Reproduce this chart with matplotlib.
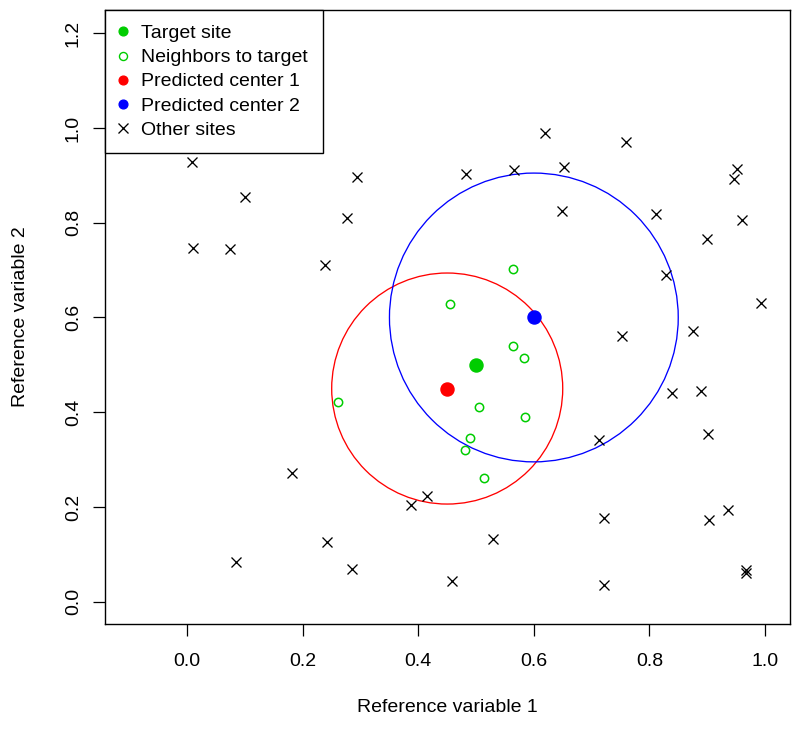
import matplotlib
matplotlib.use('Agg')
import matplotlib.pyplot as plt
import numpy as np
from matplotlib.lines import Line2D
from matplotlib.patches import Ellipse

plt.rcParams['font.family'] = ['Liberation Sans', 'DejaVu Sans']

# other sites (x marks)
other_x = [0.008, 0.100, 0.010, 0.074, 0.293, 0.277, 0.239, 0.620, 0.760, 0.482,
           0.566, 0.653, 0.951, 0.946, 0.648, 0.811, 0.960, 0.899, 0.828, 0.994,
           0.876, 0.752, 0.840, 0.889, 0.902, 0.713, 0.722, 0.904, 0.936, 0.968,
           0.968, 0.721, 0.529, 0.459, 0.415, 0.387, 0.181, 0.242, 0.286, 0.085]
other_y = [0.929, 0.854, 0.746, 0.744, 0.897, 0.810, 0.710, 0.990, 0.971, 0.903,
           0.911, 0.918, 0.914, 0.893, 0.825, 0.819, 0.806, 0.766, 0.690, 0.631,
           0.572, 0.561, 0.441, 0.444, 0.353, 0.342, 0.176, 0.173, 0.194, 0.067,
           0.060, 0.036, 0.132, 0.044, 0.224, 0.205, 0.272, 0.126, 0.069, 0.083]

# neighbors of the target
nb_x = [0.564, 0.454, 0.564, 0.583, 0.505, 0.584, 0.489, 0.481, 0.513, 0.261]
nb_y = [0.702, 0.629, 0.540, 0.515, 0.410, 0.389, 0.345, 0.320, 0.261, 0.421]

target = (0.5, 0.5)
centers_x = [0.45, 0.60]
centers_y = [0.45, 0.60]
radii = [0.20, 0.25]
center_cols = ['#FF0000', '#0000FF']

green = '#00CD00'

W, H = 796, 729
fig = plt.figure(figsize=(W / 100, H / 100), dpi=100)
ax = fig.add_axes([105 / W, 1 - 624 / H, (790 - 105) / W, (624 - 10) / H])

xlim = (-0.1425, 1.0435)
ylim = (-0.047, 1.249)
ax.set_xlim(*xlim)
ax.set_ylim(*ylim)

# circles are round on screen, radius in x units (like R symbols())
ax_w = (790 - 105)
ax_h = (624 - 10)
ratio = (ax_w / (xlim[1] - xlim[0])) / (ax_h / (ylim[1] - ylim[0]))
for cx, cy, r, c in zip(centers_x, centers_y, radii, center_cols):
    ax.add_patch(Ellipse((cx, cy), 2 * r, 2 * r * ratio, fill=False,
                         edgecolor=c, linewidth=0.95))

ax.plot(other_x, other_y, 'x', color='black', markersize=7, mew=0.95)
ax.plot(nb_x, nb_y, 'o', mfc='none', mec=green, markersize=6.0, mew=1.1)
ax.plot([target[0]], [target[1]], 'o', color=green, markersize=9.4)
for cx, cy, c in zip(centers_x, centers_y, center_cols):
    ax.plot([cx], [cy], 'o', color=c, markersize=9.4)

ax.set_xticks([0.0, 0.2, 0.4, 0.6, 0.8, 1.0])
ax.set_yticks([0.0, 0.2, 0.4, 0.6, 0.8, 1.0, 1.2])
ax.set_xticklabels(['0.0', '0.2', '0.4', '0.6', '0.8', '1.0'])
ax.set_yticklabels(['0.0', '0.2', '0.4', '0.6', '0.8', '1.0', '1.2'])
ax.tick_params(direction='out', length=8.6, width=0.9, labelsize=14, colors='black')
ax.tick_params(axis='x', pad=12.3)
ax.tick_params(axis='y', pad=8)
plt.setp(ax.get_yticklabels(), rotation=90, va='center')
for s in ax.spines.values():
    s.set_linewidth(1.0)
    s.set_color('black')

ax.set_xlabel('Reference variable 1', fontsize=14, va='center')
ax.xaxis.set_label_coords(0.5, -(707.5 - 624) / ax_h)
ax.set_ylabel('Reference variable 2', fontsize=14, va='center')
ax.yaxis.set_label_coords(-(105 - 21) / ax_w, 0.5)

handles = [
    Line2D([], [], ls='none', marker='o', color=green, markersize=6.3),
    Line2D([], [], ls='none', marker='o', mfc='none', mec=green, markersize=5.8, mew=1.0),
    Line2D([], [], ls='none', marker='o', color='#FF0000', markersize=6.3),
    Line2D([], [], ls='none', marker='o', color='#0000FF', markersize=6.3),
    Line2D([], [], ls='none', marker='x', color='black', markersize=6.5, mew=0.95),
]
labels = ['Target site', 'Neighbors to target', 'Predicted center 1',
          'Predicted center 2', 'Other sites']
leg = ax.legend(handles, labels, loc='upper left', borderaxespad=0, fontsize=14,
                fancybox=False, framealpha=1, edgecolor='black', borderpad=0.75,
                handlelength=0.35, handletextpad=0.76, labelspacing=0.335)
leg.get_frame().set_linewidth(1.0)

fig.savefig('out.png', dpi=100)
